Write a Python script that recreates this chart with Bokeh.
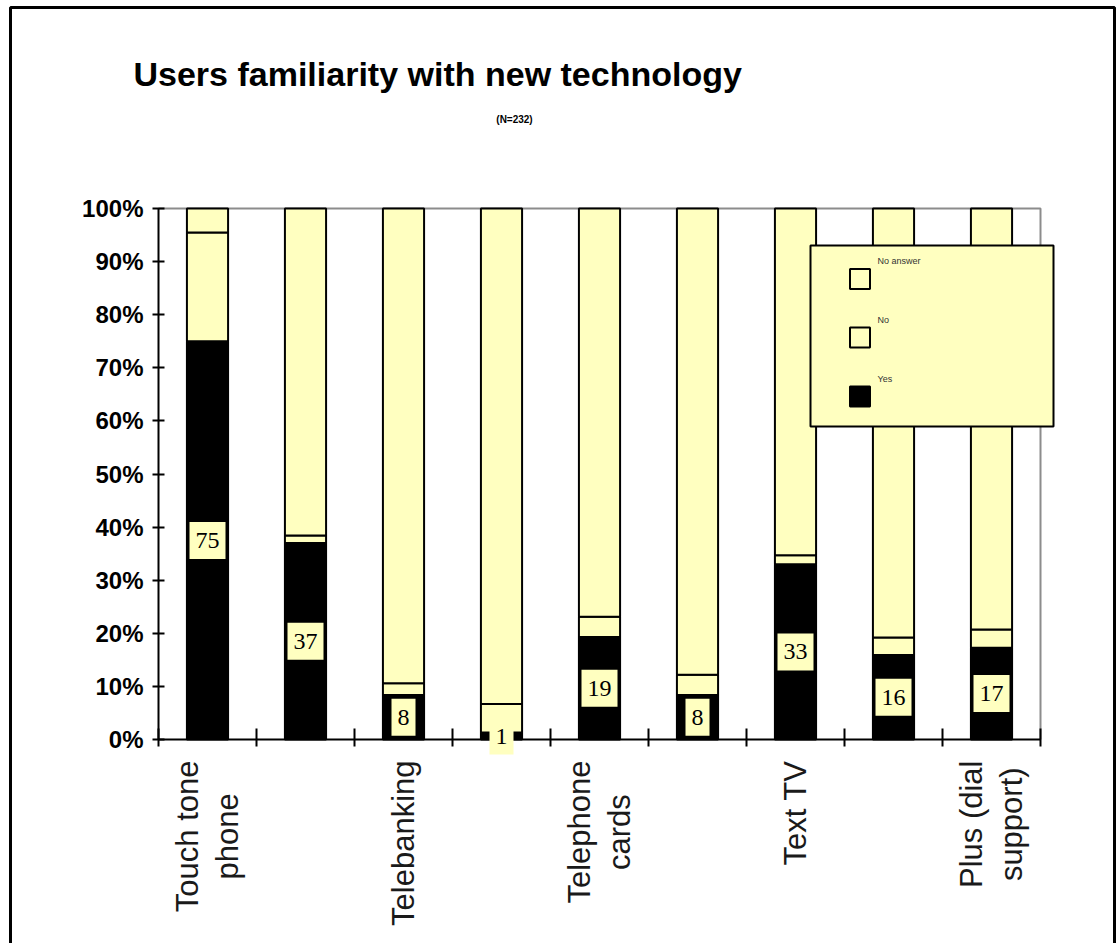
import math
from bokeh.plotting import figure
from bokeh.models import ColumnDataSource, Range1d, FixedTicker, Label, BoxAnnotation
from bokeh.core.properties import value
from bokeh.embed import file_html
from bokeh.resources import INLINE

# ---------------- data ----------------
categories = ["Touch tone phone", "", "Telebanking", "", "Telephone cards", "",
              "Text TV", "", "Plus (dial support)"]
x_tick_labels = ["Touch tone\nphone", "", "Telebanking", "", "Telephone\ncards", "",
                 "Text TV", "", "Plus (dial\nsupport)"]
yes = [75.0, 37.0, 8.4, 1.3, 19.3, 8.4, 33.0, 15.9, 17.3]
no = [20.5, 1.4, 2.2, 5.4, 3.8, 3.8, 1.7, 3.3, 3.4]
no_answer = [4.5, 61.6, 89.4, 93.3, 76.9, 87.8, 65.3, 80.8, 79.3]
legend_labels = ["No answer", "No", "Yes"]
y_ticks = [0, 10, 20, 30, 40, 50, 60, 70, 80, 90, 100]
y_tick_labels = ["0%", "10%", "20%", "30%", "40%", "50%", "60%", "70%", "80%", "90%", "100%"]
title_text = "Users familiarity with new technology"
subtitle_text = "(N=232)"

# ---------------- style / geometry ----------------
YELLOW = "#FFFFC0"
BLACK = "#000000"
W, H = 1117, 943
X0, X9, Y100, Y0 = 158, 1040, 208, 739     # pixel positions of the value axes
n = len(categories)
PX_X = (X9 - X0) / n
PX_Y = (Y0 - Y100) / 100.0


def dx(px):
    return (px - X0) / PX_X


def dy(py):
    return (Y0 - py) / PX_Y


p = figure(width=W, height=H,
           x_range=Range1d(dx(0), dx(W)), y_range=Range1d(dy(H), dy(0)),
           output_backend="svg", toolbar_location=None,
           min_border_left=0, min_border_right=0, min_border_top=0, min_border_bottom=0)
p.title_location = None
p.background_fill_color = "white"
p.border_fill_color = "white"
p.outline_line_color = None
p.xgrid.visible = False
p.ygrid.visible = False

# grey plot-area edges (top and right)
p.line(x=[0, n, n], y=[100, 100, 0], line_color="#8c8c8c", line_width=2)

centers = [i + 0.5 for i in range(n)]
src = ColumnDataSource(dict(x=centers, yes=yes, no=no, no_answer=no_answer))
p.vbar_stack(["yes", "no", "no_answer"], x="x", width=0.42, source=src,
             fill_color=[BLACK, YELLOW, YELLOW], line_color="black", line_width=2)

# x axis (at y = 0)
xa = p.xaxis[0]
xa.fixed_location = 0
xa.bounds = (0, n)
xa.ticker = FixedTicker(ticks=[], minor_ticks=list(range(n + 1)))
xa.major_tick_in = 0
xa.major_tick_out = 0
xa.minor_tick_in = 11
xa.minor_tick_out = 7
xa.minor_tick_line_color = "black"
xa.minor_tick_line_width = 2
xa.axis_line_color = "black"
xa.axis_line_width = 2

# category labels, rotated, hanging below the axis
p.text(x=centers, y=[dy(760)] * n, text=x_tick_labels, angle=math.pi / 2,
       anchor=value("center_right"), text_align="center", text_baseline="middle",
       text_font=value("Liberation Sans"), text_font_size="31px",
       text_color="#1a1a1a", text_line_height=1.15)

# y axis (at x = 0)
ya = p.yaxis[0]
ya.fixed_location = 0
ya.bounds = (0, 100)
ya.ticker = FixedTicker(ticks=y_ticks, minor_ticks=[])
ya.major_label_overrides = {t: lab for t, lab in zip(y_ticks, y_tick_labels)}
ya.major_tick_in = 6
ya.major_tick_out = 6
ya.major_tick_line_color = "black"
ya.major_tick_line_width = 2
ya.minor_tick_line_color = None
ya.axis_line_color = "black"
ya.axis_line_width = 2
ya.major_label_text_font = "Liberation Sans"
ya.major_label_text_font_style = "bold"
ya.major_label_text_font_size = "24px"
ya.major_label_text_color = "black"
ya.major_label_standoff = 9

# value labels in the middle of the "Yes" segment
for xc, v in zip(centers, yes):
    p.add_layout(Label(x=xc, y=v / 2, text=f"{v:.0f}", text_align="center",
                       text_baseline="middle", text_font="Liberation Serif",
                       text_font_size="24px", text_color="black",
                       background_fill_color=YELLOW, background_fill_alpha=1.0,
                       padding=dict(left=6, right=6, top=11, bottom=11)))

# titles
p.add_layout(Label(x=dx(133), y=dy(73), text=title_text, text_align="left",
                   text_baseline="middle", text_font="Liberation Sans",
                   text_font_style="bold", text_font_size="34px", text_color="black"))
p.add_layout(Label(x=dx(514), y=dy(119), text=subtitle_text, text_align="center",
                   text_baseline="middle", text_font="Liberation Sans",
                   text_font_style="bold", text_font_size="10px", text_color="black"))

# legend (label above each swatch, as in the original)
p.add_layout(BoxAnnotation(left=dx(810), right=dx(1053), top=dy(245), bottom=dy(426),
                           fill_color=YELLOW, fill_alpha=1.0, line_color="black",
                           line_alpha=1.0, line_width=2))
sw_y = [278.5, 337.0, 396.0]
sw_fill = [YELLOW, YELLOW, BLACK]
for lab, cy, fc in zip(legend_labels, sw_y, sw_fill):
    p.add_layout(BoxAnnotation(left=dx(849.5), right=dx(869.5), top=dy(cy - 10),
                               bottom=dy(cy + 10), fill_color=fc, fill_alpha=1.0,
                               line_color="black", line_alpha=1.0, line_width=2))
    p.add_layout(Label(x=dx(877), y=dy(cy - 13), text=lab, text_align="left",
                       text_baseline="bottom", text_font="Liberation Sans",
                       text_font_size="9px", text_color="#333333"))

# outer chart border
p.add_layout(BoxAnnotation(left=dx(10), right=dx(1114), top=dy(7), bottom=dy(990),
                           fill_alpha=0.0, line_color="black", line_alpha=1.0,
                           line_width=3))

open("out.html", "w").write(file_html(p, INLINE))
